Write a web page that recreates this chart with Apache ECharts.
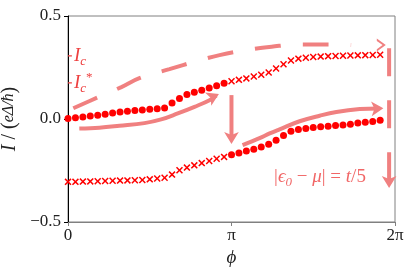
<!DOCTYPE html>
<html><head><meta charset="utf-8">
<script src="https://cdn.jsdelivr.net/npm/echarts@6/dist/echarts.min.js"></script>
<style>html,body{margin:0;padding:0;background:#fff}#c{width:415px;height:277px}</style>
</head><body><div id="c"></div>
<script>
// phase points (rad)
const phi = [0, 0.143, 0.286, 0.428, 0.571, 0.714, 0.857, 1.000, 1.142, 1.285, 1.428,
  1.571, 1.714, 1.856, 1.999, 2.142, 2.285, 2.427, 2.570, 2.713, 2.856, 2.999,
  3.142, 3.284, 3.427, 3.570, 3.713, 3.856, 3.998, 4.141, 4.284, 4.427, 4.570,
  4.712, 4.855, 4.998, 5.141, 5.284, 5.426, 5.569, 5.712, 5.855, 5.998];
// upper branch current
const upperI = [0.002, 0.006, 0.010, 0.014, 0.018, 0.023, 0.029, 0.034, 0.038, 0.041, 0.044,
  0.047, 0.050, 0.054, 0.078, 0.100, 0.119, 0.130, 0.140, 0.151, 0.161, 0.173,
  0.183, 0.190, 0.197, 0.206, 0.215, 0.226, 0.245, 0.266, 0.284, 0.293, 0.297,
  0.301, 0.303, 0.305, 0.306, 0.307, 0.308, 0.309, 0.310, 0.311, 0.312];
// lower branch current
const lowerI = [-0.305, -0.305, -0.304, -0.303, -0.302, -0.301, -0.300, -0.299, -0.298, -0.297, -0.296,
  -0.293, -0.289, -0.285, -0.270, -0.249, -0.236, -0.225, -0.214, -0.204, -0.193, -0.184,
  -0.174, -0.165, -0.155, -0.147, -0.136, -0.122, -0.103, -0.080, -0.059, -0.051, -0.046,
  -0.041, -0.038, -0.035, -0.032, -0.029, -0.025, -0.020, -0.016, -0.012, -0.006];
const splitIndex = 22; // dots before, crosses after on upper branch (reverse on lower)
const Ic = 0.306, IcStar = 0.175;
const yTicks = [-0.5, 0, 0.5];
const xTickLabels = ['0', 'π', '2π'];

// annotation paths (data coords)
const dashPath = [[0.102,0.052],[0.583,0.106],[1.026,0.155],[1.372,0.198],[1.949,0.242],[2.469,0.281],
  [2.912,0.310],[3.431,0.335],[3.912,0.351],[4.451,0.362],[4.894,0.362],[5.440,0.359]];
const dashHead = [[5.95,0.359],[6.02,0.359]];
const dashVert = [[6.170,0.344],[6.170,-0.325]];
const dashVertHead = [[6.170,-0.29],[6.170,-0.335]];
const arrowLL = [[0.217,-0.046],[0.602,-0.042],[0.987,-0.033],[1.468,-0.020],[1.790,-0.002],
  [2.109,0.027],[2.431,0.059],[2.719,0.091],[2.85,0.114]];
const arrowLLHead = [[2.75,0.103],[2.90,0.121]];
const arrowV = [[3.141,0.116],[3.141,-0.100]];
const arrowVHead = [[3.141,-0.09],[3.141,-0.121]];
const arrowUR = [[3.354,-0.127],[3.681,-0.093],[3.875,-0.070],[4.066,-0.050],[4.451,-0.011],
  [4.836,0.016],[5.157,0.034],[5.606,0.048],[5.98,0.051]];
const arrowURHead = [[5.90,0.050],[6.06,0.052]];
const labelPos = [4.842, -0.283];

const annoColor = '#f08080';
const red = '#ff0000';
const txtRed = '#ee4040';
const serif = 'Liberation Serif';
const crossSym = 'path://M1.5,0L5,3.5L8.5,0L10,1.5L6.5,5L10,8.5L8.5,10L5,6.5L1.5,10L0,8.5L3.5,5L0,1.5Z';
const chevron = 'path://M0,10L5,0L10,10L8.2,10L5,3.6L1.8,10Z';

const dotsUp = phi.slice(0, splitIndex).map((p, i) => [p, upperI[i]]);
const crossUp = phi.slice(splitIndex).map((p, i) => [p, upperI[i + splitIndex]]);
const crossLo = phi.slice(0, splitIndex).map((p, i) => [p, lowerI[i]]);
const dotsLo = phi.slice(splitIndex).map((p, i) => [p, lowerI[i + splitIndex]]);

function headML(head, sym, size) {
  return {
    silent: true, animation: false, symbol: ['none', sym], symbolSize: size,
    label: {show: false},
    lineStyle: {color: annoColor, width: 0, type: 'solid', opacity: 1},
    data: [[{coord: head[0]}, {coord: head[1]}]]
  };
}
function annoLine(data, dashed, head, sym, size, smooth) {
  return {
    type: 'line', data: data, smooth: smooth, symbol: 'none', silent: true, animation: false,
    z: 1,
    lineStyle: {color: annoColor, width: 4, type: dashed || 'solid', cap: 'butt'},
    markLine: headML(head, sym, size)
  };
}
const rich = {
  i: {fontFamily: serif, fontStyle: 'italic', fontSize: 19, color: txtRed, lineHeight: 24, verticalAlign: 'middle'},
  s: {fontFamily: serif, fontStyle: 'italic', fontSize: 13, color: txtRed, lineHeight: 13, verticalAlign: 'bottom'},
  p: {fontFamily: serif, fontSize: 13, color: txtRed, lineHeight: 13, verticalAlign: 'top'},
  n: {fontFamily: serif, fontSize: 19, color: txtRed, lineHeight: 24, verticalAlign: 'middle'}
};
const ptStyle = {color: red, opacity: 1};

const chart = echarts.init(document.getElementById('c'), null, {renderer: 'canvas'});
chart.setOption({
  animation: false,
  backgroundColor: '#fff',
  grid: {left: 68, right: 20, top: 16, bottom: 55, show: true, borderColor: '#808080', borderWidth: 1,
    containLabel: false, outerBoundsMode: 'none'},
  xAxis: {
    type: 'value', min: 0, max: 2 * Math.PI, interval: Math.PI,
    name: 'ϕ', nameLocation: 'middle', nameGap: 24,
    nameTextStyle: {fontFamily: serif, fontStyle: 'italic', fontSize: 19, color: '#222'},
    axisLine: {onZero: false, lineStyle: {color: '#808080', width: 1}},
    axisTick: {show: true, length: 4, lineStyle: {color: '#808080'}},
    axisLabel: {fontFamily: serif, fontSize: 17, color: '#222', margin: 5, showMinLabel: true, showMaxLabel: true,
      formatter: v => xTickLabels[Math.round(v / Math.PI)]},
    splitLine: {show: false}
  },
  yAxis: {
    type: 'value', min: yTicks[0], max: yTicks[2], interval: 0.5,
    name: '{it|I}{n| / (}{f|eΔ/ħ}{n|)}', nameLocation: 'middle', nameRotate: 90, nameGap: 46,
    nameTextStyle: {rich: {
      it: {fontFamily: serif, fontStyle: 'italic', fontSize: 20, color: '#222'},
      n: {fontFamily: serif, fontSize: 20, color: '#222'},
      f: {fontFamily: serif, fontStyle: 'italic', fontSize: 16, color: '#222'}
    }},
    axisLine: {show: true, onZero: false, lineStyle: {color: '#000', width: 1}},
    axisTick: {show: true, length: 4, lineStyle: {color: '#000'}},
    axisLabel: {fontFamily: serif, fontSize: 17, color: '#222', margin: 7,
      formatter: v => v.toFixed(1).replace('-', '−')},
    splitLine: {show: false}
  },
  series: [
    annoLine(dashPath, [26, 22], dashHead, chevron, [13, 9], 0.4),
    annoLine(dashVert, [28, 24], dashVertHead, 'arrow', [11, 12], false),
    annoLine(arrowLL, 'solid', arrowLLHead, 'arrow', [11, 12], 0.4),
    annoLine(arrowV, 'solid', arrowVHead, 'arrow', [11, 12], false),
    annoLine(arrowUR, 'solid', arrowURHead, 'arrow', [11, 12], 0.4),
    {type: 'scatter', data: dotsUp, symbol: 'circle', symbolSize: 7, itemStyle: ptStyle, z: 3, silent: true},
    {type: 'scatter', data: dotsLo, symbol: 'circle', symbolSize: 7, itemStyle: ptStyle, z: 3, silent: true},
    {type: 'scatter', data: crossUp, symbol: crossSym, symbolSize: 7, itemStyle: ptStyle, z: 3, silent: true},
    {type: 'scatter', data: crossLo, symbol: crossSym, symbolSize: 7, itemStyle: ptStyle, z: 3, silent: true},
    {type: 'line', data: [[0, Ic], [0.075, Ic]], symbol: 'none', silent: true, z: 4,
      lineStyle: {color: txtRed, width: 1.2},
      endLabel: {show: true, distance: 2, formatter: '{i|I}{s|c}', rich: rich}},
    {type: 'line', data: [[0, IcStar], [0.075, IcStar]], symbol: 'none', silent: true, z: 4,
      lineStyle: {color: txtRed, width: 1.2},
      endLabel: {show: true, distance: 2, formatter: '{i|I}{s|c}{p|*}', rich: rich}},
    {type: 'scatter', data: [labelPos], symbolSize: 0, silent: true, z: 4,
      label: {show: true, position: 'inside',
        formatter: '{n||}{i|ϵ}{s|0}{n| − }{i|μ}{n|| = }{i|t}{n|/5}', rich: rich}}
  ]
});
</script></body></html>
